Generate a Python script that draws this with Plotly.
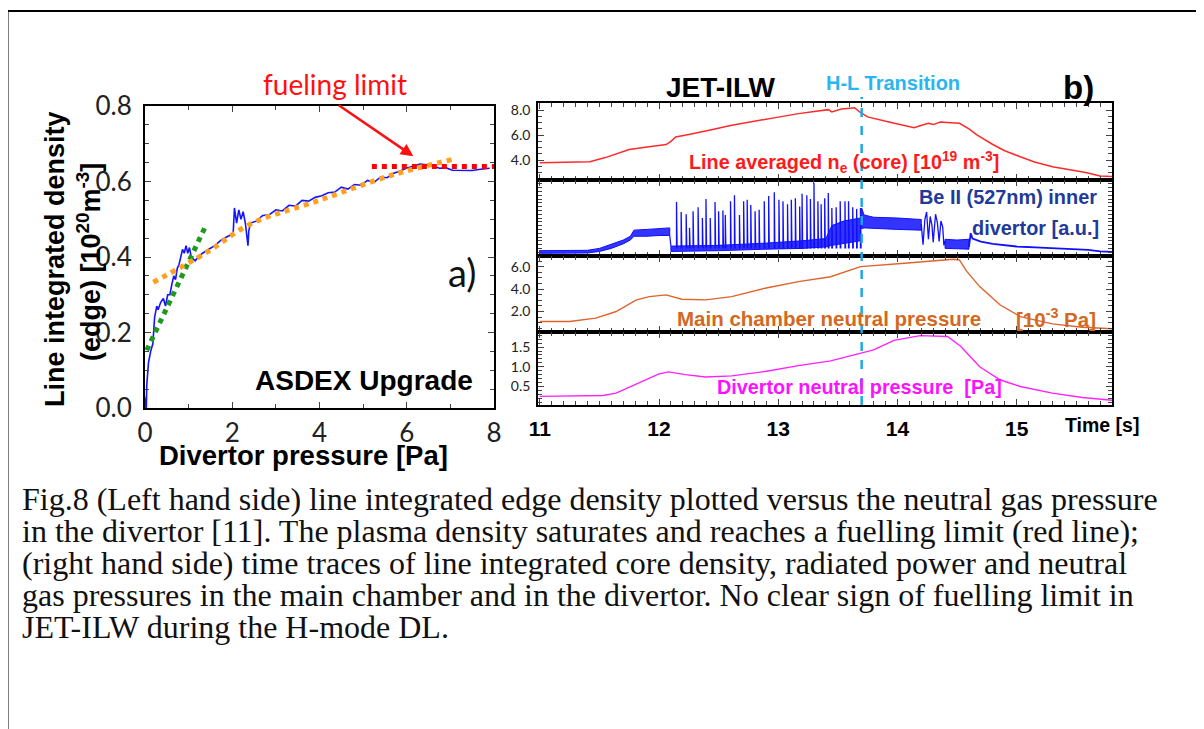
import plotly.graph_objects as go

# ---------------- data: left panel (ASDEX Upgrade) ----------------
AUG_PRESSURE = [0.02, 0.03, 0.00, 0.03, 0.04, 0.08, 0.13, 0.18, 0.22, 0.27, 0.30, 0.36, 0.42, 0.47,
                0.52, 0.57, 0.62, 0.66, 0.70, 0.74, 0.78, 0.82, 0.86, 0.90, 0.94, 0.98, 1.02, 1.06,
                1.10, 1.15, 1.22, 1.32, 1.45, 1.60, 1.75, 1.90, 2.02, 2.05, 2.10, 2.15, 2.20, 2.25,
                2.30, 2.34, 2.36, 2.38, 2.42, 2.55, 2.70, 2.85, 3.00, 3.15, 3.30, 3.45, 3.60, 3.75,
                3.90, 4.05, 4.20, 4.35, 4.50, 4.65, 4.80, 4.95, 5.10, 5.25, 5.40, 5.55, 5.70, 5.85,
                6.00, 6.15, 6.30, 6.45, 6.60, 6.75, 6.90, 7.05, 7.20, 7.35, 7.50, 7.65, 7.80, 7.90]
AUG_DENSITY = [0.00, 0.03, 0.01, 0.00, 0.06, 0.12, 0.15, 0.17, 0.24, 0.27, 0.26, 0.28, 0.29, 0.27,
               0.30, 0.30, 0.33, 0.35, 0.34, 0.37, 0.38, 0.40, 0.42, 0.41, 0.43, 0.41, 0.425, 0.40,
               0.395, 0.39, 0.40, 0.41, 0.42, 0.43, 0.445, 0.455, 0.46, 0.53, 0.49, 0.525, 0.50, 0.52,
               0.49, 0.45, 0.43, 0.47, 0.49, 0.495, 0.51, 0.512, 0.525, 0.522, 0.537, 0.535, 0.55, 0.548,
               0.558, 0.562, 0.57, 0.572, 0.585, 0.58, 0.592, 0.59, 0.603, 0.598, 0.612, 0.61, 0.622, 0.628,
               0.636, 0.64, 0.646, 0.644, 0.641, 0.635, 0.636, 0.63, 0.629, 0.63, 0.629, 0.632, 0.635, 0.635]
GREEN_FIT_X = [0.04, 1.41]
GREEN_FIT_Y = [0.153, 0.487]
ORANGE_FIT_X = [0.19, 1.41, 2.41, 3.94, 5.69, 7.11]
ORANGE_FIT_Y = [0.333, 0.412, 0.487, 0.548, 0.618, 0.660]
FUEL_LIMIT_X = [5.2, 8.0]
FUEL_LIMIT_Y = [0.64, 0.64]
AUG_XTICKS = [0, 2, 4, 6, 8]
AUG_YTICKS = [0.0, 0.2, 0.4, 0.6, 0.8]

# ---------------- data: right panel (JET-ILW) ----------------
NE_T = [11.0, 11.2, 11.42, 11.55, 11.65, 11.75, 11.9, 12.06, 12.1, 12.14, 12.25, 12.33, 12.45, 12.61,
        12.75, 12.89, 13.0, 13.17, 13.3, 13.42, 13.45, 13.53, 13.58, 13.64, 13.68, 13.75, 13.92,
        14.14, 14.19, 14.26, 14.3, 14.36, 14.45, 14.52, 14.6, 14.67, 14.8, 14.9, 15.03, 15.15, 15.3,
        15.45, 15.58, 15.7, 15.8]
NE_CORE = [3.78, 3.8, 3.86, 4.2, 4.55, 4.85, 5.05, 5.25, 5.5, 5.85, 6.05, 6.2, 6.45, 6.8,
           7.05, 7.28, 7.45, 7.73, 7.9, 8.05, 7.87, 8.1, 8.15, 8.2, 7.9, 7.47, 7.07,
           6.6, 6.75, 6.95, 6.85, 7.05, 7.0, 6.95, 6.5, 6.0, 5.25, 4.75, 4.27, 3.85, 3.47,
           3.2, 3.0, 2.72, 2.68]

BE_A_T = [11.0, 11.4, 11.5, 11.6, 11.7, 11.76, 11.79, 11.9, 12.0, 12.09]
BE_A_LO = [0.35, 0.4, 0.6, 1.0, 1.6, 2.1, 2.6, 2.6, 2.7, 2.7]
BE_A_HI = [0.7, 0.75, 1.0, 1.5, 2.1, 2.6, 3.4, 3.5, 3.6, 3.7]
BE_B_T = [12.10, 12.5, 12.9, 13.2, 13.4, 13.45, 13.55, 13.69]
BE_B_LO = [0.6, 0.7, 0.9, 1.0, 1.2, 1.4, 1.7, 2.0]
BE_B_HI = [1.3, 1.4, 1.7, 2.0, 2.3, 4.0, 4.6, 5.0]
BE_C_T = [13.70, 13.72, 13.8, 14.0, 14.2]
BE_C_LO = [3.6, 3.7, 3.6, 3.5, 3.4]
BE_C_HI = [6.3, 5.4, 5.1, 5.0, 4.8]
BE_D_T = [14.40, 14.5, 14.60]
BE_D_LO = [1.0, 0.95, 0.9]
BE_D_HI = [2.2, 2.1, 2.2]
BE_E_T = [14.20, 14.215, 14.23, 14.245, 14.26, 14.275, 14.29, 14.30, 14.32, 14.335, 14.35, 14.365,
          14.38, 14.39, 14.40]
BE_E = [4.2, 1.5, 4.8, 5.8, 2.2, 5.2, 4.0, 1.8, 5.5, 4.4, 1.9, 4.6, 3.8, 1.4, 2.0]
BE_F_T = [14.60, 14.615, 14.63, 14.7, 14.8, 15.0, 15.2, 15.4, 15.55, 15.6, 15.7, 15.8]
BE_F = [1.2, 3.0, 2.3, 1.9, 1.6, 1.25, 1.1, 0.95, 0.85, 0.8, 0.6, 0.55]
ELM_T = [12.147, 12.186, 12.228, 12.256, 12.286, 12.328, 12.364, 12.394, 12.43, 12.47, 12.5, 12.536,
         12.556, 12.6, 12.633, 12.675, 12.71, 12.74, 12.77, 12.806, 12.84, 12.883, 12.92, 12.967,
         13.006, 13.04, 13.078, 13.11, 13.144, 13.18, 13.2, 13.24, 13.27, 13.3, 13.333, 13.36,
         13.39, 13.42, 13.45, 13.486, 13.52, 13.56, 13.59, 13.625, 13.658, 13.69]
ELM_PEAK = [7.1, 5.8, 5.5, 3.7, 5.9, 6.4, 5.0, 7.5, 5.0, 7.1, 5.9, 6.0,
            5.4, 7.2, 8.0, 5.4, 7.2, 7.4, 6.7, 5.9, 6.1, 7.2, 7.9, 8.4,
            7.4, 7.2, 6.8, 7.4, 7.6, 6.5, 8.2, 8.0, 7.5, 9.6, 7.2, 6.8,
            7.6, 8.3, 6.3, 6.4, 7.2, 7.2, 7.2, 6.4, 6.2, 6.3]
ELM_BASE = 1.0
ELM_DECAY = 0.005

MC_T = [11.0, 11.25, 11.47, 11.64, 11.81, 11.92, 12.06, 12.19, 12.39, 12.61, 12.89, 13.17, 13.44,
        13.57, 13.69, 14.06, 14.47, 14.52, 14.58, 14.69, 14.86, 15.03, 15.3, 15.55, 15.8]
MC_PRESS = [1.11, 1.11, 1.41, 2.0, 3.04, 3.33, 3.48, 3.1, 3.04, 3.33, 4.08, 4.67, 5.1,
            5.56, 6.0, 6.3, 6.66, 6.6, 5.6, 4.22, 2.6, 1.55, 0.9, 0.6, 0.46]
DP_T = [11.0, 11.53, 11.64, 11.83, 12.0, 12.08, 12.22, 12.39, 12.61, 12.89, 13.17, 13.44, 13.57,
        13.69, 13.8, 13.97, 14.19, 14.42, 14.53, 14.69, 14.86, 15.03, 15.3, 15.55, 15.8]
DIV_PRESS = [0.25, 0.27, 0.33, 0.59, 0.82, 0.87, 0.8, 0.74, 0.77, 0.88, 1.03, 1.15, 1.25,
             1.33, 1.43, 1.67, 1.79, 1.77, 1.52, 1.0, 0.67, 0.5, 0.33, 0.22, 0.15]
HL_TIME = 13.70
TIME_TICKS = [11, 12, 13, 14, 15]
NE_TICKS = [4.0, 6.0, 8.0]
MC_TICKS = [2.0, 4.0, 6.0]
DP_TICKS = [0.5, 1.0, 1.5]

CAPTION_LINES = [
    "Fig.8 (Left hand side) line integrated edge density plotted versus the neutral gas pressure",
    "in the divertor [11]. The plasma density saturates and reaches a fuelling limit (red line);",
    "(right hand side) time traces of line integrated core density, radiated power and neutral",
    "gas pressures in the main chamber and in the divertor. No clear sign of fuelling limit in",
    "JET-ILW during the H-mode DL.",
]

# ---------------- helpers ----------------
W, H = 1204, 729
PAGE_OFFSET = 8  # the page body margin shifts the figure by this much


def px(x):
    return (x - PAGE_OFFSET) / W


def py(y):
    return 1 - (y - PAGE_OFFSET) / H


SANS = "Liberation Sans, Arial, sans-serif"
CAL = "Lato, Carlito, Open Sans, sans-serif"
SERIF = "Liberation Serif, Times New Roman, serif"

fig = go.Figure()

# ---- left panel traces ----
fig.add_trace(go.Scatter(x=AUG_PRESSURE, y=AUG_DENSITY, mode="lines",
                         line=dict(color="#1414FF", width=1.6), xaxis="x", yaxis="y"))
fig.add_trace(go.Scatter(x=GREEN_FIT_X, y=GREEN_FIT_Y, mode="lines",
                         line=dict(color="#1E9A1E", width=5, dash="dot"), xaxis="x", yaxis="y"))
fig.add_trace(go.Scatter(x=ORANGE_FIT_X, y=ORANGE_FIT_Y, mode="lines", line_shape="spline",
                         line=dict(color="#FFA11F", width=5, dash="dot"), xaxis="x", yaxis="y"))
fig.add_trace(go.Scatter(x=FUEL_LIMIT_X, y=FUEL_LIMIT_Y, mode="lines",
                         line=dict(color="#FF0000", width=5, dash="dot"), xaxis="x", yaxis="y"))

# ---- right panel traces ----
fig.add_trace(go.Scatter(x=NE_T, y=NE_CORE, mode="lines",
                         line=dict(color="#FF2A2A", width=1.5), xaxis="x2", yaxis="y2"))

BLUE = "#1010FF"


def band(t, lo, hi):
    xs = list(t) + list(reversed(t)) + [t[0]]
    ys = list(hi) + list(reversed(lo)) + [hi[0]]
    fig.add_trace(go.Scatter(x=xs, y=ys, mode="lines", fill="toself", fillcolor="rgba(16,16,255,0.85)",
                             line=dict(color=BLUE, width=1), xaxis="x3", yaxis="y3"))


band(BE_A_T, BE_A_LO, BE_A_HI)
band(BE_B_T, BE_B_LO, BE_B_HI)
band(BE_C_T, BE_C_LO, BE_C_HI)
band(BE_D_T, BE_D_LO, BE_D_HI)
fig.add_trace(go.Scatter(x=[BE_A_T[-1], BE_B_T[0]], y=[BE_A_LO[-1], BE_B_HI[0]], mode="lines",
                         line=dict(color=BLUE, width=1.2), xaxis="x3", yaxis="y3"))
fig.add_trace(go.Scatter(x=BE_E_T, y=BE_E, mode="lines",
                         line=dict(color=BLUE, width=1.3), xaxis="x3", yaxis="y3"))
fig.add_trace(go.Scatter(x=BE_F_T, y=BE_F, mode="lines",
                         line=dict(color=BLUE, width=1.8), xaxis="x3", yaxis="y3"))
elm_x, elm_y = [], []
for t, p in zip(ELM_T, ELM_PEAK):
    elm_x += [t, t, t + ELM_DECAY, None]
    elm_y += [ELM_BASE, p, ELM_BASE, None]
fig.add_trace(go.Scatter(x=elm_x, y=elm_y, mode="lines",
                         line=dict(color=BLUE, width=1.3), xaxis="x3", yaxis="y3"))

fig.add_trace(go.Scatter(x=MC_T, y=MC_PRESS, mode="lines",
                         line=dict(color="#E0632A", width=1.4), xaxis="x4", yaxis="y4"))
fig.add_trace(go.Scatter(x=DP_T, y=DIV_PRESS, mode="lines",
                         line=dict(color="#FF22FF", width=1.4), xaxis="x5", yaxis="y5"))

# ---------------- axes ----------------
common = dict(showline=True, linecolor="black", linewidth=2, mirror="allticks", ticks="inside",
              showgrid=False, zeroline=False, tickcolor="#444", automargin=False)

LEFT_X = [px(145), px(494)]
LEFT_Y = [py(408), py(106)]
RIGHT_X = [px(538), px(1112)]
panels = [(103.3, 180), (180, 256), (256, 331.7), (331.7, 405)]

layout_axes = {}
layout_axes["xaxis"] = dict(common, domain=LEFT_X, anchor="y", range=[0, 8], tickvals=AUG_XTICKS,
                            ticklen=6, tickfont=dict(family=CAL, size=26, color="#222"),
                            ticklabelstandoff=1,
                            minor=dict(dtick=1, ticks="inside", ticklen=4, tickcolor="#444"))
layout_axes["yaxis"] = dict(common, domain=LEFT_Y, anchor="x", range=[0, 0.8], tickvals=AUG_YTICKS,
                            tickformat=".1f", ticklen=6,
                            tickfont=dict(family=CAL, size=26, color="#222"), ticklabelstandoff=6,
                            minor=dict(dtick=0.05, ticks="inside", ticklen=4, tickcolor="#444"))

yranges = [[2.4, 8.56], [0, 10], [0.2, 6.95], [0.03, 1.89]]
ytickvals = [NE_TICKS, [], MC_TICKS, DP_TICKS]
yminor = [0.5, 0.5, 0.5, 0.1]
for i, (top, bot) in enumerate(panels):
    n = i + 2
    xa = dict(common, domain=RIGHT_X, anchor=f"y{n}", range=[10.985, 15.8], tickvals=TIME_TICKS,
              ticklen=6, linewidth=1.6,
              minor=dict(dtick=0.1, ticks="inside", ticklen=4, tickcolor="#444"),
              showticklabels=(n == 5),
              tickfont=dict(family=SANS, size=21, color="black", weight="bold"),
              ticklabelstandoff=4)
    ya = dict(common, domain=[py(bot), py(top)], anchor=f"x{n}", range=yranges[i],
              tickvals=ytickvals[i], tickformat=".1f", ticklen=6, linewidth=1.6,
              minor=dict(dtick=yminor[i], ticks="inside", ticklen=4, tickcolor="#444"),
              tickfont=dict(family=CAL, size=14, color="#222"), ticklabelstandoff=3)
    layout_axes[f"xaxis{n}"] = xa
    layout_axes[f"yaxis{n}"] = ya

# ---------------- annotations ----------------
ann = []


def text(x, y, s, size, color="black", family=SANS, bold=False, xanchor="center", angle=0):
    ann.append(dict(xref="paper", yref="paper", x=px(x), y=py(y), text=s, showarrow=False,
                    xanchor=xanchor, yanchor="middle", textangle=angle,
                    font=dict(family=family, size=size, color=color,
                              weight="bold" if bold else "normal")))


# left panel
text(55, 259, "Line integrated density", 27, bold=True, angle=-90)
text(89, 262, "(edge) [10<sup>20</sup>m<sup>-3</sup>]", 27, bold=True, angle=-90)
text(303, 455, "Divertor pressure [Pa]", 27.5, bold=True)
text(364, 380, "ASDEX Upgrade", 28, bold=True)
text(462, 272, "a)", 38, family=CAL, color="#111")
text(335, 84, "fueling limit", 28, family=CAL, color="#FF1010")
ann.append(dict(xref="x", yref="y", x=6.15, y=0.667, ax=-76, ay=-52, axref="pixel", ayref="pixel",
                showarrow=True, arrowhead=2, arrowsize=1, arrowwidth=2.5, arrowcolor="#FF1010",
                text=""))

# right panel
text(720, 87, "JET-ILW", 28, bold=True)
text(893, 83, "H-L Transition", 20, color="#29B6F0", bold=True)
text(1078, 88, "b)", 33, bold=True)
text(844, 162, "Line averaged n<sub>e</sub> (core) [10<sup>19</sup> m<sup>-3</sup>]", 19.8,
     color="#FF1A1A", bold=True)
text(1099, 197, "Be II (527nm) inner", 19.9, color="#1F3A9A", bold=True, xanchor="right")
text(1101, 228, "divertor [a.u.]", 19.9, color="#1F3A9A", bold=True, xanchor="right")
text(675, 318, "Main chamber neutral pressure", 20.5, color="#D2691E", bold=True, xanchor="left")
text(1014, 318, "[10<sup>-3</sup> Pa]", 20.5, color="#D2691E", bold=True, xanchor="left")
text(715, 387, "Divertor neutral pressure  [Pa]", 19.8, color="#FF10FF", bold=True, xanchor="left")
text(1102, 425, "Time [s]", 19.5, bold=True)

# caption
for i, line in enumerate(CAPTION_LINES):
    text(20, 499 + 32 * i, line, 32, family=SERIF, color="#111", xanchor="left")

# ---------------- shapes ----------------
shapes = [
    dict(type="line", xref="x2", yref="paper", x0=HL_TIME, x1=HL_TIME, y0=py(405), y1=py(97),
         line=dict(color="#1EA8E6", width=2.5, dash="dash"), layer="above"),
    dict(type="rect", xref="paper", yref="paper", x0=px(7.5), x1=1.05, y0=-0.05, y1=py(11),
         line=dict(color="black", width=2), fillcolor="rgba(0,0,0,0)"),
]

fig.update_layout(width=W, height=H, margin=dict(l=0, r=0, t=0, b=0, autoexpand=False),
                  paper_bgcolor="white", plot_bgcolor="white", showlegend=False,
                  annotations=ann, shapes=shapes, **layout_axes)

fig.write_html("out.html")
